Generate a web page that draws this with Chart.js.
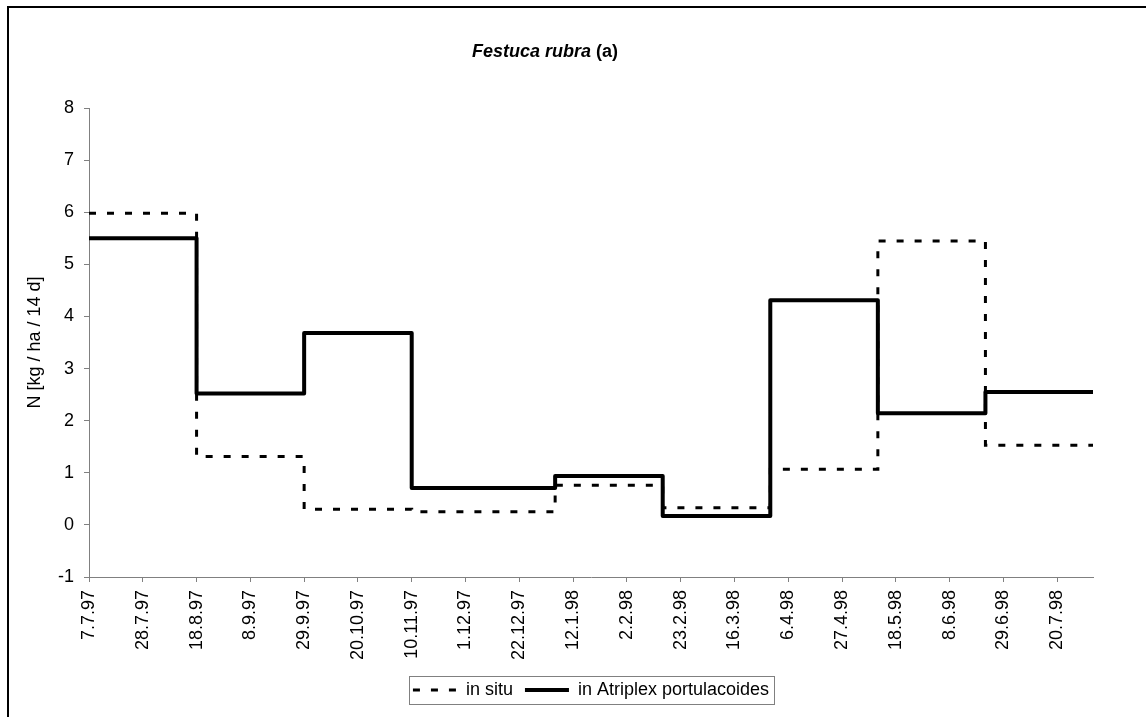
<!DOCTYPE html>
<html>
<head>
<meta charset="utf-8">
<title>Festuca rubra (a)</title>
<script src="https://cdn.jsdelivr.net/npm/chart.js@4"></script>
<style>
    html, body { margin: 0; padding: 0; background: #fff; }
    #wrap { position: relative; width: 1146px; height: 717px; overflow: hidden; }
    #frame { position: absolute; left: 7px; top: 6px; width: 1300px; height: 900px; border: 2px solid #000; pointer-events: none; }
    #chart { position: absolute; left: 0; top: 0; }
</style>
</head>
<body>
<div id="wrap">
    <canvas id="chart" width="1146" height="717"></canvas>
    <div id="frame"></div>
</div>
<script>
// Sampling periods: start dates, the last one closes the last period
const periodDates = ['7.7.97', '18.8.97', '29.9.97', '10.11.97', '5.1.98', '16.2.98', '30.3.98', '11.5.98', '22.6.98', '3.8.98'];

// N [kg / ha / 14 d] per period
const inSitu = [5.98, 1.31, 0.30, 0.25, 0.76, 0.33, 1.07, 5.45, 1.53];
const inAtriplex = [5.50, 2.52, 3.68, 0.71, 0.94, 0.17, 4.31, 2.14, 2.55];

// x axis tick labels (every 3 weeks)
const tickLabels = ['7.7.97', '28.7.97', '18.8.97', '8.9.97', '29.9.97', '20.10.97', '10.11.97', '1.12.97',
    '22.12.97', '12.1.98', '2.2.98', '23.2.98', '16.3.98', '6.4.98', '27.4.98', '18.5.98', '8.6.98',
    '29.6.98', '20.7.98'];

const yMin = -1;
const yMax = 8;

const titleMain = 'Festuca rubra';
const titleSuffix = ' (a)';
const seriesNames = ['in situ', 'in Atriplex portulacoides'];

const FONT = '"Liberation Sans", Arial, Helvetica, sans-serif';

// days since the first date
function dayOf(str) {
    const p = str.split('.').map(Number);
    const t = Date.UTC(1900 + p[2], p[1] - 1, p[0]);
    const p0 = periodDates[0].split('.').map(Number);
    const t0 = Date.UTC(1900 + p0[2], p0[1] - 1, p0[0]);
    return Math.round((t - t0) / 86400000);
}

function stepPoints(values) {
    return periodDates.map((d, i) => ({ x: dayOf(d), y: values[Math.min(i, values.length - 1)] }));
}

const tickDays = tickLabels.map(dayOf);

// title with italic species name
const mixedTitle = {
    id: 'mixedTitle',
    afterDraw(chart) {
        const ctx = chart.ctx;
        ctx.save();
        const f1 = 'italic bold 18px ' + FONT;
        const f2 = 'bold 18px ' + FONT;
        ctx.font = f1;
        const w1 = ctx.measureText(titleMain).width;
        ctx.font = f2;
        const w2 = ctx.measureText(titleSuffix).width;
        let x = 545 - (w1 + w2) / 2;
        const y = 52;
        ctx.fillStyle = '#000';
        ctx.textBaseline = 'middle';
        ctx.textAlign = 'left';
        ctx.font = f1;
        ctx.fillText(titleMain, x, y);
        ctx.font = f2;
        ctx.fillText(titleSuffix, x + w1, y);
        ctx.restore();
    }
};

// frame around the legend
const legendFrame = {
    id: 'legendFrame',
    afterDraw(chart) {
        const boxes = chart.legend.legendHitBoxes;
        if (!boxes || !boxes.length) return;
        const ctx = chart.ctx;
        const l = Math.min(...boxes.map(b => b.left)) - 4;
        const r = Math.max(...boxes.map(b => b.left + b.width)) + 5;
        const t = Math.min(...boxes.map(b => b.top)) - 5;
        const btm = Math.max(...boxes.map(b => b.top + b.height)) + 5;
        ctx.save();
        ctx.strokeStyle = '#808080';
        ctx.lineWidth = 1;
        ctx.strokeRect(Math.round(l) + 0.5, Math.round(t) + 0.5, Math.round(r - l), Math.round(btm - t));
        ctx.restore();
    }
};

new Chart(document.getElementById('chart'), {
    type: 'line',
    data: {
        datasets: [{
            label: seriesNames[0],
            data: stepPoints(inSitu),
            stepped: 'before',
            borderColor: '#000',
            borderWidth: 3,
            borderDash: [7, 11],
            borderCapStyle: 'butt',
            pointRadius: 0,
            fill: false
        }, {
            label: seriesNames[1],
            data: stepPoints(inAtriplex),
            stepped: 'before',
            borderColor: '#000',
            borderWidth: 4,
            borderJoinStyle: 'round',
            pointRadius: 0,
            fill: false
        }]
    },
    options: {
        responsive: false,
        animation: false,
        events: [],
        layout: {
            padding: { top: 108, left: 0, right: 53, bottom: 8 }
        },
        plugins: {
            title: { display: false },
            tooltip: { enabled: false },
            legend: {
                display: true,
                position: 'bottom',
                fullSize: false,
                labels: {
                    color: '#000',
                    font: { family: FONT, size: 18 },
                    usePointStyle: true,
                    pointStyleWidth: 44,
                    boxHeight: 12,
                    padding: 12,
                    generateLabels: function(chart) {
                        return chart.data.datasets.map((ds, i) => ({
                            text: ds.label,
                            fillStyle: 'rgba(0,0,0,0)',
                            strokeStyle: '#000',
                            lineWidth: ds.borderWidth,
                            lineDash: ds.borderDash || [],
                            lineCap: 'butt',
                            pointStyle: 'line',
                            fontColor: '#000',
                            hidden: false,
                            datasetIndex: i
                        }));
                    }
                }
            }
        },
        scales: {
            x: {
                type: 'linear',
                min: 0,
                max: dayOf(periodDates[periodDates.length - 1]),
                afterBuildTicks: function(scale) {
                    scale.ticks = tickDays.map(v => ({ value: v }));
                },
                afterFit: function(scale) {
                    scale.height = 92;
                },
                border: { color: '#808080', width: 1 },
                grid: { drawOnChartArea: false, drawTicks: true, tickLength: 5, color: '#808080' },
                ticks: {
                    color: '#000',
                    font: { family: FONT, size: 18 },
                    minRotation: 90,
                    maxRotation: 90,
                    padding: 8,
                    autoSkip: false,
                    callback: function(value) {
                        const i = tickDays.indexOf(value);
                        return i >= 0 ? tickLabels[i] : '';
                    }
                }
            },
            y: {
                min: yMin,
                max: yMax,
                afterFit: function(scale) {
                    scale.width = 89;
                },
                border: { color: '#808080', width: 1 },
                grid: { drawOnChartArea: false, drawTicks: true, tickLength: 5, color: '#808080' },
                ticks: {
                    stepSize: 1,
                    color: '#000',
                    font: { family: FONT, size: 18 },
                    padding: 10
                },
                title: {
                    display: true,
                    text: 'N [kg / ha / 14 d]',
                    color: '#000',
                    font: { family: FONT, size: 18 },
                    padding: { top: 24, bottom: 0 }
                }
            }
        }
    },
    plugins: [mixedTitle, legendFrame]
});
</script>
</body>
</html>
